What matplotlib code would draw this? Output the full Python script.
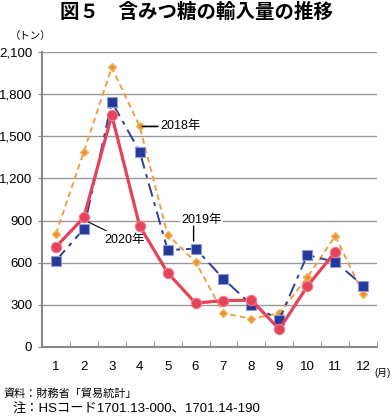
import numpy as np
import matplotlib
matplotlib.use("Agg")
from matplotlib import pyplot as plt

plt.rcParams['font.family'] = ['Liberation Sans', 'Noto Sans CJK JP', 'DejaVu Sans']

# data (tons per month)
months = [1, 2, 3, 4, 5, 6, 7, 8, 9, 10, 11, 12]
y2018 = [805, 1390, 1990, 1570, 800, 605, 240, 200, 240, 495, 790, 380]
y2019 = [615, 840, 1745, 1390, 690, 700, 485, 300, 195, 655, 605, 437]
y2020 = [712, 922, 1650, 860, 528, 312, 330, 333, 126, 432, 676]
yticks = [0, 300, 600, 900, 1200, 1500, 1800, 2100]

fig = plt.figure(figsize=(3.92, 4.16), dpi=100)
ax = fig.add_axes([0.107, 0.166, 0.855, 0.709])

ax.plot(months, y2018, color='#F0A040', ls=(0, (3, 2)), lw=1.4,
        marker='D', ms=4.5, mfc='#E8952E', mec='#F2B460', zorder=3)
ax.plot(months, y2019, color='#2B3E9A', ls=(0, (7, 3, 2, 3)), lw=1.4,
        marker='s', ms=7.5, mfc='#26399A', mec='#8FA0D0', mew=0.8, zorder=4)
ax.plot(months[:len(y2020)], y2020, color='#E5435A', lw=2.3,
        marker='o', ms=7.5, mfc='#E5435A', mec='#F08090', mew=0.8, zorder=5)

ax.set_xlim(0.5, 12.5)
ax.set_ylim(0, 2100)
ax.set_yticks(yticks)
ax.set_yticklabels([f'{v:,}' for v in yticks], fontsize=9.5)
ax.set_xticks(months)
ax.set_xticklabels([str(m) for m in months], fontsize=9.5)
ax.set_xticks(np.arange(0.5, 13, 1), minor=True)
ax.tick_params(axis='x', which='major', length=0, pad=10)
ax.tick_params(axis='x', which='minor', length=4, color='#888888', direction='in')
ax.tick_params(axis='y', length=3, color='#888888', pad=4)

ax.grid(axis='y', color='#999999', lw=1)
ax.set_axisbelow(True)
for s in ['top', 'right']:
    ax.spines[s].set_visible(False)
for s in ['left', 'bottom']:
    ax.spines[s].set_color('#888888')
    ax.spines[s].set_linewidth(1.5)

# series labels with leader lines
ax.annotate('2018年', xy=(4.1, 1570), xytext=(4.75, 1570), fontsize=9,
            va='center', arrowprops=dict(arrowstyle='-', color='black', lw=1.2,
                                         shrinkA=0, shrinkB=0))
ax.text(6.2, 905, '2019年', fontsize=9, ha='center', va='center',
        bbox=dict(boxstyle='square,pad=0.1', fc='white', ec='none'))
ax.annotate('', xy=(5.93, 755), xytext=(5.93, 860),
            arrowprops=dict(arrowstyle='-', color='black', lw=1.0,
                            shrinkA=0, shrinkB=0))
ax.annotate('2020年', xy=(2.1, 895), xytext=(3.45, 765), fontsize=9,
            ha='center', va='center',
            arrowprops=dict(arrowstyle='-', color='black', lw=0.8,
                            shrinkA=18, shrinkB=0))

fig.text(0.5, 0.97, '図５　含みつ糖の輸入量の推移', ha='center', va='center',
         fontsize=14, fontweight='bold')
fig.text(0.025, 0.913, '（トン）', ha='left', va='center', fontsize=7.5)
fig.text(0.996, 0.103, '(月)', ha='right', va='center', fontsize=7)
fig.text(0.008, 0.055, '資料：財務省「貿易統計」', ha='left', va='center', fontsize=8)
fig.text(0.033, 0.016, '注：HSコード1701.13-000、1701.14-190', ha='left',
         va='center', fontsize=9.5)

fig.savefig('out.png', dpi=100)
